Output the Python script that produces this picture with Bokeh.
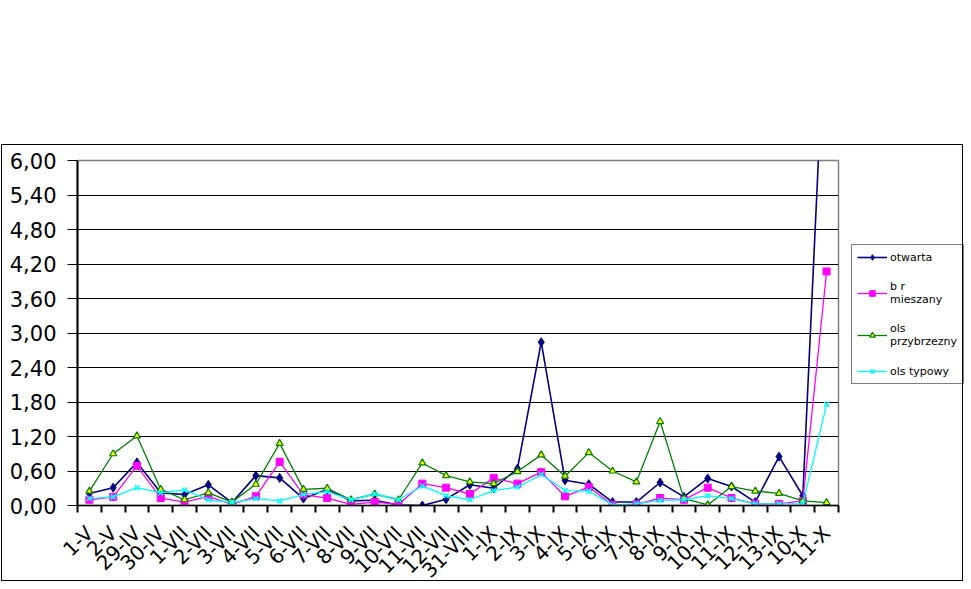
import math
from bokeh.plotting import figure
from bokeh.models import (Range1d, FixedTicker, CustomJSTickFormatter, Legend,
                          LegendItem, InlineStyleSheet)
from bokeh.embed import file_html
from bokeh.resources import INLINE

categories = ["1-V", "2-V", "29-IV", "30-IV", "1-VII", "2-VII", "3-VII", "4-VII",
              "5-VII", "6-VII", "7-VII", "8-VII", "9-VII", "10-VII", "11-VII", "12-VII",
              "31-VIII", "1-IX", "2-IX", "3-IX", "4-IX", "5-IX", "6-IX", "7-IX",
              "8-IX", "9-IX", "10-IX", "11-IX", "12-IX", "13-IX", "10-X", "11-X"]

otwarta = [0.21, 0.31, 0.75, 0.22, 0.19, 0.36, 0.05, 0.52, 0.48, 0.12, 0.28, 0.08,
           0.09, 0.01, 0.00, 0.11, 0.36, 0.30, 0.64, 2.84, 0.44, 0.37, 0.06, 0.06,
           0.40, 0.15, 0.47, 0.33, 0.06, 0.85, 0.17, 9.10]
bor_mieszany = [0.10, 0.15, 0.69, 0.13, 0.06, 0.16, 0.02, 0.16, 0.76, 0.19, 0.13, 0.02,
                0.06, 0.02, 0.38, 0.31, 0.20, 0.48, 0.38, 0.58, 0.16, 0.32, 0.01, 0.02,
                0.13, 0.10, 0.31, 0.13, 0.03, 0.03, 0.08, 4.07]
ols_przybrzezny = [0.25, 0.90, 1.21, 0.28, 0.10, 0.22, 0.06, 0.37, 1.08, 0.28, 0.30, 0.10,
                   0.20, 0.10, 0.74, 0.52, 0.41, 0.38, 0.59, 0.88, 0.51, 0.92, 0.60, 0.41,
                   1.46, 0.12, 0.01, 0.33, 0.25, 0.21, 0.08, 0.05]
ols_typowy = [0.12, 0.15, 0.31, 0.22, 0.27, 0.10, 0.05, 0.12, 0.08, 0.19, 0.24, 0.10,
              0.20, 0.10, 0.34, 0.17, 0.10, 0.26, 0.32, 0.54, 0.26, 0.25, 0.01, 0.03,
              0.09, 0.10, 0.17, 0.12, 0.03, 0.03, 0.03, 1.76]

series_labels = ["otwarta", "b r\nmieszany", "ols\nprzybrzezny", "ols typowy"]
y_ticks = [0.0, 0.6, 1.2, 1.8, 2.4, 3.0, 3.6, 4.2, 4.8, 5.4, 6.0]

FONT = "DejaVu Sans"
xs = list(range(len(categories)))

border_css = InlineStyleSheet(css="""
:host { position: relative; }
:host::after {
  content: ''; position: absolute; left: 1px; top: 144px;
  width: 960px; height: 435px; border: 1px solid black;
  pointer-events: none; z-index: 10;
}
""")

p = figure(width=963, height=581, frame_width=761, frame_height=345,
           output_backend="svg", toolbar_location=None,
           x_range=Range1d(-0.5, len(categories) - 0.5), y_range=Range1d(0, 6),
           min_border_left=77, min_border_right=125, min_border_top=160,
           min_border_bottom=76, background_fill_color="white",
           border_fill_color="white", stylesheets=[border_css])
p.outline_line_color = "#808080"
p.outline_line_width = 1.5
p.xgrid.visible = False
p.ygrid.ticker = FixedTicker(ticks=y_ticks[:-1])
p.ygrid.grid_line_color = "black"
p.ygrid.grid_line_width = 1

# y axis
p.yaxis.ticker = FixedTicker(ticks=y_ticks)
p.yaxis.formatter = CustomJSTickFormatter(code="return tick.toFixed(2).replace('.', ',')")
p.yaxis.axis_line_color = "black"
p.yaxis.axis_line_width = 2
p.yaxis.major_tick_out = 10
p.yaxis.major_tick_in = 0
p.yaxis.major_tick_line_color = "black"
p.yaxis.minor_tick_line_color = None
p.yaxis.major_label_standoff = 11
p.yaxis.major_label_text_font = FONT
p.yaxis.major_label_text_font_size = "21px"
p.yaxis.major_label_text_color = "black"

# x axis
p.xaxis.ticker = FixedTicker(ticks=xs, minor_ticks=[i - 0.5 for i in range(len(categories) + 1)])
p.xaxis.major_label_overrides = {i: c for i, c in zip(xs, categories)}
p.xaxis.major_label_orientation = math.pi / 4
p.xaxis.major_tick_line_color = None
p.xaxis.major_tick_out = 0
p.xaxis.major_tick_in = 0
p.xaxis.minor_tick_line_color = "black"
p.xaxis.minor_tick_line_width = 2
p.xaxis.minor_tick_out = 7
p.xaxis.minor_tick_in = 0
p.xaxis.axis_line_color = "black"
p.xaxis.axis_line_width = 1.5
p.xaxis.major_label_standoff = 17
p.xaxis.major_label_text_font = FONT
p.xaxis.major_label_text_font_size = "20px"
p.xaxis.major_label_text_color = "black"

items = []
l1 = p.line(xs, otwarta, line_color="#000080", line_width=1.6)
s1 = p.scatter(xs, otwarta, marker="diamond", size=9, fill_color="#000080", line_color="#000080")
items.append(LegendItem(label=series_labels[0], renderers=[l1, s1]))
l2 = p.line(xs, bor_mieszany, line_color="#FF00FF", line_width=1.3)
s2 = p.scatter(xs, bor_mieszany, marker="square", size=7, fill_color="#FF00FF", line_color="#FF00FF")
items.append(LegendItem(label=series_labels[1], renderers=[l2, s2]))
l3 = p.line(xs, ols_przybrzezny, line_color="#008000", line_width=1.3)
s3 = p.scatter(xs, ols_przybrzezny, marker="triangle", size=7, fill_color="#FFFF00", line_color="#008000", line_width=1.2)
items.append(LegendItem(label=series_labels[2], renderers=[l3, s3]))
l4 = p.line(xs, ols_typowy, line_color="#00FFFF", line_width=1.3)
s4 = p.scatter(xs, ols_typowy, marker="x", size=7, line_color="#00FFFF", line_width=1.5)
items.append(LegendItem(label=series_labels[3], renderers=[l4, s4]))

legend = Legend(items=items, location=(13, 121), margin=0, padding=5, spacing=16,
                glyph_width=30, glyph_height=14, label_standoff=3, label_width=68,
                border_line_color="black", border_line_width=1,
                background_fill_color="white", background_fill_alpha=1,
                label_text_font=FONT, label_text_font_size="11px",
                label_text_color="black")
p.add_layout(legend, "right")

open("out.html", "w").write(file_html(p, INLINE))
